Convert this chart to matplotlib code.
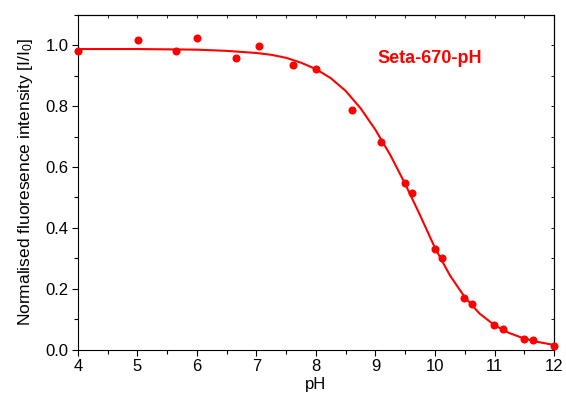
import matplotlib
matplotlib.use("Agg")
import matplotlib.pyplot as plt
from matplotlib.ticker import MultipleLocator

plt.rcParams["font.family"] = ["Liberation Sans", "DejaVu Sans"]
plt.rcParams["mathtext.default"] = "regular"

# measured points (pH, normalised intensity)
ph_points = [4.0, 5.01, 5.65, 6.0, 6.65, 7.04, 7.61, 8.0, 8.61, 9.1, 9.5, 9.62,
             10.0, 10.11, 10.49, 10.62, 10.99, 11.14, 11.49, 11.64, 12.0]
intensity = [0.980, 1.018, 0.980, 1.023, 0.960, 0.998, 0.934, 0.922, 0.788, 0.683, 0.547, 0.516,
             0.332, 0.301, 0.168, 0.149, 0.081, 0.067, 0.036, 0.032, 0.012]

# fitted curve
ph_fit = [4.0, 4.5, 5.0, 5.5, 6.0, 6.5, 7.0, 7.25, 7.5, 7.75, 8.0, 8.25, 8.5, 8.75,
          9.0, 9.25, 9.5, 9.75, 10.0, 10.25, 10.5, 10.75, 11.0, 11.25, 11.5, 11.75, 12.0]
int_fit = [0.988, 0.988, 0.988, 0.987, 0.986, 0.982, 0.975, 0.969, 0.959, 0.943, 0.922, 0.892,
           0.850, 0.793, 0.722, 0.639, 0.544, 0.441, 0.334, 0.244, 0.172, 0.118, 0.080, 0.054,
           0.036, 0.024, 0.015]

label = "Seta-670-pH"

fig = plt.figure(figsize=(5.66, 4.04), dpi=100)
ax = fig.add_axes([0.1378, 0.1349, 0.841, 0.828])

ax.plot(ph_fit, int_fit, color="#ff0000", lw=1.5, zorder=2)
ax.plot(ph_points, intensity, "o", color="#ff0000", ms=5.8, mec="none", zorder=3, clip_on=False)

ax.set_xlim(4, 12)
ax.set_ylim(0, 1.1)
ax.xaxis.set_major_locator(MultipleLocator(1))
ax.xaxis.set_minor_locator(MultipleLocator(0.5))
ax.yaxis.set_major_locator(MultipleLocator(0.2))
ax.yaxis.set_minor_locator(MultipleLocator(0.1))
ax.yaxis.set_major_formatter(lambda v, p: f"{v:.1f}")

ax.tick_params(which="both", direction="out", labelsize=12, width=0.8, color="black")
ax.tick_params(which="major", length=4, pad=3)
ax.tick_params(which="minor", length=3)

# small inward ticks on top and right
for side in ("top", "right"):
    ax.spines[side].set_linewidth(0.8)
sec_x = ax.secondary_xaxis("top")
sec_x.xaxis.set_major_locator(MultipleLocator(1))
sec_x.xaxis.set_minor_locator(MultipleLocator(0.5))
sec_x.tick_params(which="both", direction="in", length=2, labeltop=False, width=0.6)
sec_y = ax.secondary_yaxis("right")
sec_y.yaxis.set_major_locator(MultipleLocator(0.2))
sec_y.yaxis.set_minor_locator(MultipleLocator(0.1))
sec_y.tick_params(which="both", direction="in", length=2, labelright=False, width=0.6)

ax.set_xlabel("pH", fontsize=12, labelpad=2)
ax.set_ylabel("Normalised fluoresence intensity [I/I$_0$]", fontsize=12.5, labelpad=7)

ax.text(0.739, 0.871, label, transform=ax.transAxes, color="#ff0000",
        fontsize=13, fontweight="bold", ha="center", va="center")

fig.savefig("out.png", dpi=100)
